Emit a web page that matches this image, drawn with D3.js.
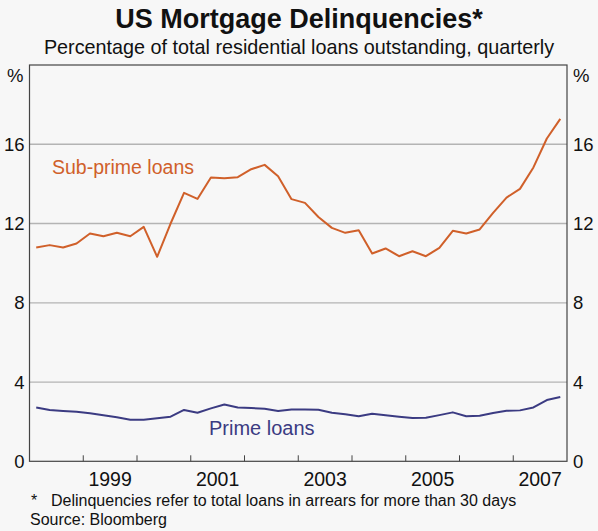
<!DOCTYPE html>
<html><head><meta charset="utf-8">
<script src="https://cdn.jsdelivr.net/npm/d3@7"></script>
<style>body{margin:0;background:#f7f7f7;} svg{display:block;font-family:Arial,"Liberation Sans",sans-serif;}</style>
</head><body>
<script>
const quarters = d3.range(40).map(i => 1998 + Math.floor(i/4) + ((i%4)+0.5)/4);
const subprime = [10.79,10.91,10.79,10.99,11.50,11.36,11.53,11.36,11.83,10.32,
  12.00,13.55,13.24,14.32,14.29,14.34,14.74,14.96,14.39,13.23,
  13.04,12.33,11.78,11.53,11.66,10.49,10.74,10.35,10.60,10.35,
  10.77,11.63,11.50,11.70,12.54,13.31,13.75,14.83,16.29,17.28];
const prime = [2.72,2.59,2.54,2.50,2.42,2.32,2.22,2.10,2.10,2.17,
  2.25,2.59,2.45,2.67,2.87,2.72,2.69,2.65,2.54,2.62,
  2.62,2.60,2.45,2.37,2.27,2.40,2.33,2.25,2.18,2.20,
  2.33,2.47,2.27,2.30,2.44,2.55,2.57,2.72,3.09,3.24];
const yTicks = [0,4,8,12,16];
const xTickYears = [1999,2000,2001,2002,2003,2004,2005,2006,2007];
const xLabelYears = [1999,2001,2003,2005,2007];

const W=598,H=531;
const svg=d3.select("body").append("svg").attr("width",W).attr("height",H);
svg.append("rect").attr("width",W).attr("height",H).attr("fill","#f7f7f7");
const L=29.5,R=567,T=65,B=461.3;
const x=d3.scaleLinear().domain([1998,2008]).range([L,R]);
const y=d3.scaleLinear().domain([0,20]).range([B,T]);

// gridlines
svg.append("g").selectAll("line").data(yTicks.filter(d=>d>0)).join("line")
  .attr("x1",L).attr("x2",R).attr("y1",d=>y(d)).attr("y2",d=>y(d))
  .attr("stroke","#b4b4b4").attr("stroke-width",1.3);

// x ticks inward
svg.append("g").selectAll("line").data(xTickYears).join("line")
  .attr("x1",d=>x(d)).attr("x2",d=>x(d)).attr("y1",B).attr("y2",B-6)
  .attr("stroke","#444").attr("stroke-width",1);

// frame
svg.append("rect").attr("x",L).attr("y",T).attr("width",R-L).attr("height",B-T)
  .attr("fill","none").attr("stroke","#444").attr("stroke-width",1.2);

// y labels
const fs=18.5;
svg.append("g").selectAll("text").data(yTicks).join("text")
  .attr("x",L-5).attr("y",d=>y(d)).attr("dy","0.36em").attr("text-anchor","end")
  .attr("font-size",fs).attr("fill","#111").text(d=>d);
svg.append("g").selectAll("text").data(yTicks).join("text")
  .attr("x",R+6).attr("y",d=>y(d)).attr("dy","0.36em").attr("text-anchor","start")
  .attr("font-size",fs).attr("fill","#111").text(d=>d);
svg.append("text").attr("x",L-6).attr("y",T+10).attr("dy","0.36em").attr("text-anchor","end").attr("font-size",fs).attr("fill","#111").text("%");
svg.append("text").attr("x",R+6).attr("y",T+10).attr("dy","0.36em").attr("text-anchor","start").attr("font-size",fs).attr("fill","#111").text("%");

// x labels
svg.append("g").selectAll("text").data(xLabelYears).join("text")
  .attr("x",d=>x(d+0.5)).attr("y",486).attr("text-anchor","middle")
  .attr("font-size",19.5).attr("fill","#111").text(d=>d);

// lines
const line=d3.line().x((d,i)=>x(quarters[i])).y(d=>y(d));
svg.append("path").datum(subprime).attr("d",line).attr("fill","none")
  .attr("stroke","#d0602a").attr("stroke-width",2).attr("stroke-linejoin","round");
svg.append("path").datum(prime).attr("d",line).attr("fill","none")
  .attr("stroke","#3b3b82").attr("stroke-width",2).attr("stroke-linejoin","round");

// series labels
svg.append("text").attr("x",52).attr("y",174).attr("font-size",19.5).attr("fill","#d0602a").text("Sub-prime loans");
svg.append("text").attr("x",209).attr("y",435).attr("font-size",20).attr("fill","#3b3b82").text("Prime loans");

// titles
svg.append("text").attr("x",299).attr("y",28).attr("text-anchor","middle").attr("font-size",27).attr("font-weight","bold").attr("fill","#111").text("US Mortgage Delinquencies*");
svg.append("text").attr("x",299).attr("y",54).attr("text-anchor","middle").attr("font-size",19.8).attr("fill","#111").text("Percentage of total residential loans outstanding, quarterly");

// footnotes
svg.append("text").attr("x",31).attr("y",506).attr("font-size",16).attr("fill","#111").text("*");
svg.append("text").attr("x",51).attr("y",506).attr("font-size",16).attr("fill","#111").text("Delinquencies refer to total loans in arrears for more than 30 days");
svg.append("text").attr("x",30).attr("y",525).attr("font-size",16).attr("fill","#111").text("Source: Bloomberg");
</script>
</body></html>
